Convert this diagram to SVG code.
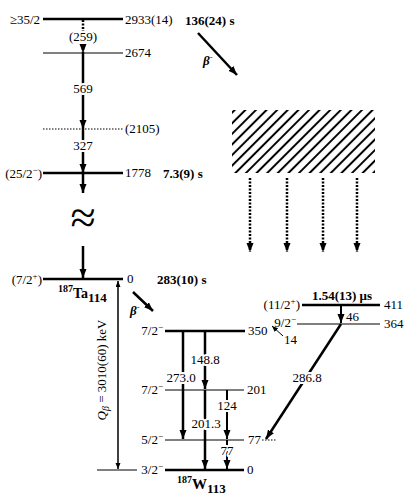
<svg xmlns="http://www.w3.org/2000/svg" width="407" height="496" viewBox="0 0 407 496">
<style>
text{font-family:"Liberation Serif","Times New Roman",serif;font-size:13px;fill:#000}
.b{font-weight:bold}
.m{text-anchor:middle}
.e{text-anchor:end}
.w{stroke:#fff;stroke-width:4;paint-order:stroke;stroke-linejoin:round}
.big{font-size:46px}
.thick{stroke:#000;stroke-width:2.5;fill:none}
.thin{stroke:#000;stroke-width:1;fill:none}
.dot{stroke:#000;stroke-width:1;stroke-dasharray:1.5,1.5;fill:none}
.arr{stroke:#000;stroke-width:2.5;fill:none;marker-end:url(#ah)}
.darr{stroke:#000;stroke-width:2.5;stroke-dasharray:2,1.5;fill:none;marker-end:url(#ah)}
.sarr{stroke:#000;stroke-width:2;fill:none;marker-end:url(#ah)}
</style>
<defs>
<marker id="ah" markerUnits="userSpaceOnUse" markerWidth="10" markerHeight="8" refX="9" refY="3.5" orient="auto"><path d="M0,0 L9,3.5 L0,7 z" fill="#000"/></marker>
<marker id="ahs" markerUnits="userSpaceOnUse" markerWidth="7" markerHeight="6" refX="6" refY="2.5" orient="auto-start-reverse"><path d="M0,0 L6,2.5 L0,5 z" fill="#000"/></marker>
<pattern id="hatch" patternUnits="userSpaceOnUse" width="7.5" height="10" patternTransform="rotate(45)"><line x1="3.75" y1="0" x2="3.75" y2="10" stroke="#000" stroke-width="2"/></pattern>
</defs>

<g id="connectors">
<line class="darr" x1="83" y1="20" x2="83" y2="53"/>
<line class="arr" x1="83" y1="53" x2="83" y2="129"/>
<line class="arr" x1="83" y1="129" x2="83" y2="173"/>
<line class="arr" x1="83" y1="173" x2="83" y2="193"/>
<line class="arr" x1="83" y1="246" x2="83" y2="278"/>
<line class="arr" x1="198" y1="33" x2="237" y2="75"/>
<line class="arr" x1="133" y1="292" x2="153" y2="311"/>
<line stroke="#000" stroke-width="1.5" marker-start="url(#ahs)" marker-end="url(#ahs)" x1="118" y1="281" x2="118" y2="469"/>
<line class="darr" x1="250" y1="178" x2="250" y2="252"/>
<line class="darr" x1="287" y1="178" x2="287" y2="252"/>
<line class="darr" x1="323" y1="178" x2="323" y2="252"/>
<line class="darr" x1="357" y1="178" x2="357" y2="252"/>
<line class="arr" x1="183" y1="331" x2="183" y2="439"/>
<line class="arr" x1="205" y1="331" x2="205" y2="389"/>
<line class="arr" x1="205" y1="390" x2="205" y2="469"/>
<line class="sarr" x1="227" y1="390" x2="227" y2="439"/>
<line class="sarr" x1="227" y1="440" x2="227" y2="469"/>
<line class="sarr" x1="341" y1="305" x2="341" y2="323"/>
<line class="arr" x1="341" y1="324" x2="266" y2="439"/>
<line stroke="#000" stroke-width="1" marker-end="url(#ahs)" x1="283" y1="336" x2="272" y2="326"/>
</g>

<g id="hatched-region">
<rect x="232" y="110" width="143" height="63" fill="url(#hatch)"/>
</g>

<g id="ta-2933">
<line class="thick" x1="43" y1="19" x2="123" y2="19"/>
<text class="e" x="40" y="24">≥35/2</text>
<text x="125" y="24">2933(14)</text>
<text class="b" x="185" y="25">136(24) s</text>
</g>
<g id="ta-2674">
<line class="thin" x1="43" y1="53" x2="123" y2="53"/>
<text x="125" y="57">2674</text>
</g>
<g id="ta-2105">
<line class="dot" x1="43" y1="129" x2="123" y2="129"/>
<text x="125" y="133">(2105)</text>
</g>
<g id="ta-1778">
<line class="thick" x1="43" y1="173" x2="123" y2="173"/>
<text class="e" x="42" y="178">(25/2<tspan dy="-5" font-size="9">−</tspan><tspan dy="5">)</tspan></text>
<text x="125" y="177">1778</text>
<text class="b" x="163" y="178">7.3(9) s</text>
</g>
<g id="ta-0">
<line class="thick" x1="43" y1="279" x2="123" y2="279"/>
<text class="e" x="42" y="284">(7/2<tspan dy="-5" font-size="9">+</tspan><tspan dy="5">)</tspan></text>
<text x="127" y="283">0</text>
<text class="b" x="157" y="284">283(10) s</text>
<text class="b" x="58" y="298"><tspan font-size="10" dy="-6">187</tspan><tspan font-size="14" dy="6">Ta</tspan><tspan font-size="13" dy="4">114</tspan></text>
</g>

<g id="labels-ta">
<text class="m w" x="83" y="41">(259)</text>
<text class="m w" x="83" y="93">569</text>
<text class="m w" x="83" y="150">327</text>
<text class="m big" x="83" y="233">≈</text>
<text class="b" x="203" y="65" font-style="italic">β<tspan dy="-5" font-size="9">-</tspan></text>
<text class="b" x="130" y="315" font-style="italic">β<tspan dy="-5" font-size="9">-</tspan></text>
<text transform="translate(106,370) rotate(-90)" class="m"><tspan font-style="italic">Q</tspan><tspan font-style="italic" font-size="10" dy="3">β</tspan><tspan dy="-3"> = 3010(60) keV</tspan></text>
</g>

<g id="w-350">
<line class="thick" x1="165" y1="331" x2="245" y2="331"/>
<text class="e" x="163" y="335">7/2<tspan dy="-5" font-size="9">−</tspan></text>
<text x="248" y="335">350</text>
</g>
<g id="w-201">
<line class="thin" x1="165" y1="390" x2="244" y2="390"/>
<text class="e" x="163" y="394">7/2<tspan dy="-5" font-size="9">−</tspan></text>
<text x="247" y="394">201</text>
</g>
<g id="w-77">
<line class="thin" x1="165" y1="440" x2="244" y2="440"/>
<line class="dot" x1="262" y1="440" x2="277" y2="440"/>
<text class="e" x="163" y="444">5/2<tspan dy="-5" font-size="9">−</tspan></text>
<text x="248" y="444">77</text>
</g>
<g id="w-0">
<line class="thick" x1="165" y1="470" x2="244" y2="470"/>
<line class="thin" x1="97" y1="470" x2="137" y2="470"/>
<text class="e" x="163" y="474">3/2<tspan dy="-5" font-size="9">−</tspan></text>
<text x="247" y="474">0</text>
<text class="b" x="177" y="489"><tspan font-size="10" dy="-6">187</tspan><tspan font-size="15" dy="6">W</tspan><tspan font-size="13" dy="4">113</tspan></text>
</g>
<g id="w-411">
<line class="thick" x1="302" y1="305" x2="380" y2="305"/>
<text class="e" x="300" y="309">(11/2<tspan dy="-5" font-size="9">+</tspan><tspan dy="5">)</tspan></text>
<text x="384" y="309">411</text>
<text class="b m" x="342" y="300">1.54(13) μs</text>
</g>
<g id="w-364">
<line class="thin" x1="297" y1="324" x2="380" y2="324"/>
<text class="e" x="296" y="327">9/2<tspan dy="-5" font-size="9">−</tspan></text>
<text x="384" y="328">364</text>
</g>

<g id="labels-w">
<text class="m w" x="181" y="382">273.0</text>
<text class="m w" x="205" y="364">148.8</text>
<text class="m w" x="206" y="428">201.3</text>
<text class="m w" x="227" y="410">124</text>
<text class="m w" x="227" y="455">77</text>
<text class="m w" x="307" y="382">286.8</text>
<text x="284" y="344">14</text>
<text x="346" y="321">46</text>
</g>
</svg>
